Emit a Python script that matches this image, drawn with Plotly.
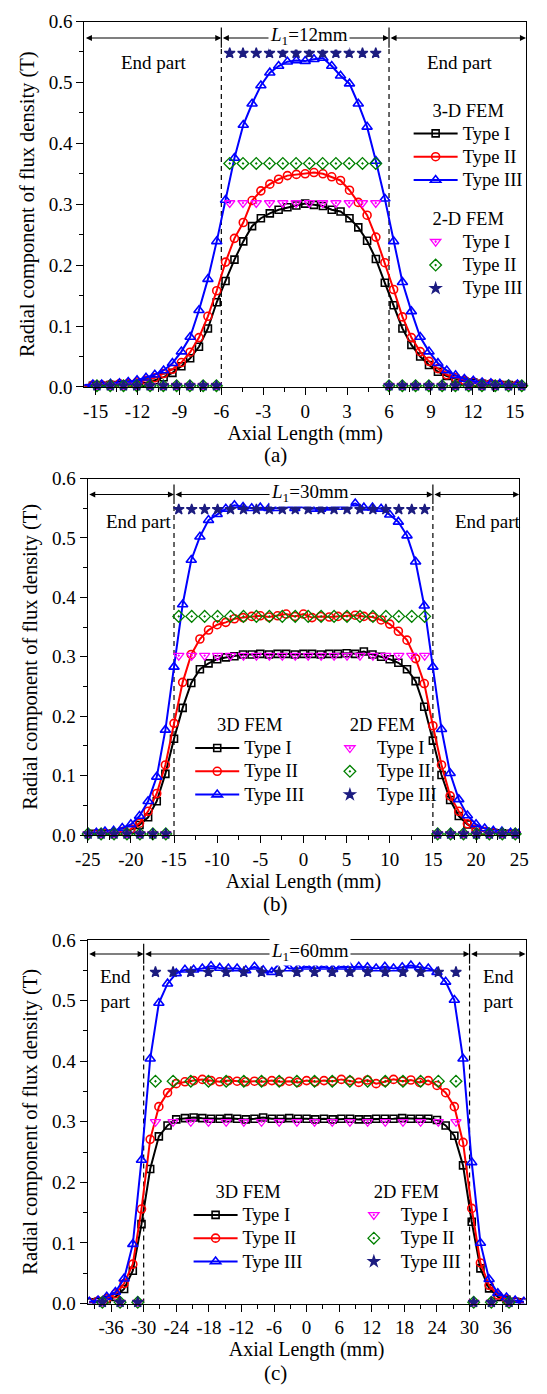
import plotly.graph_objects as go

W, H = 547, 1394
SERIF = "Liberation Serif"

# ---------------- (a) magnet length L1 = 12 mm ----------------
x3d_a = [-15.83, -15.19, -14.56, -13.93, -13.29, -12.66, -12.03, -11.39, -10.76, -10.13,
         -9.50, -8.86, -8.23, -7.60, -6.96, -6.33, -5.70, -5.06, -4.43, -3.80,
         -3.17, -2.53, -1.90, -1.27, -0.63, 0.0, 0.63, 1.27, 1.90, 2.53,
         3.17, 3.80, 4.43, 5.06, 5.70, 6.33, 6.96, 7.60, 8.23, 8.86,
         9.50, 10.13, 10.76, 11.39, 12.03, 12.66, 13.29, 13.93, 14.56, 15.19, 15.83]
a3d_type1 = [0.002, 0.002, 0.002, 0.003, 0.003, 0.004, 0.005, 0.007, 0.011, 0.016,
             0.023, 0.034, 0.047, 0.066, 0.096, 0.139, 0.174, 0.209, 0.239, 0.264,
             0.277, 0.285, 0.291, 0.295, 0.298, 0.301, 0.299, 0.297, 0.291, 0.288,
             0.277, 0.262, 0.240, 0.210, 0.171, 0.134, 0.096, 0.069, 0.050, 0.036,
             0.025, 0.018, 0.013, 0.009, 0.007, 0.005, 0.004, 0.003, 0.003, 0.002, 0.002]
a3d_type2 = [0.002, 0.003, 0.003, 0.004, 0.005, 0.006, 0.008, 0.011, 0.015, 0.022,
             0.029, 0.040, 0.057, 0.081, 0.116, 0.158, 0.205, 0.244, 0.270, 0.306,
             0.322, 0.333, 0.341, 0.347, 0.349, 0.350, 0.352, 0.350, 0.345, 0.339,
             0.323, 0.303, 0.282, 0.246, 0.204, 0.160, 0.115, 0.081, 0.058, 0.042,
             0.030, 0.020, 0.015, 0.011, 0.008, 0.006, 0.005, 0.004, 0.003, 0.003, 0.002]
a3d_type3 = [0.003, 0.004, 0.004, 0.005, 0.006, 0.008, 0.011, 0.015, 0.020, 0.027,
             0.039, 0.058, 0.082, 0.126, 0.177, 0.239, 0.307, 0.376, 0.430, 0.465,
             0.495, 0.516, 0.527, 0.534, 0.536, 0.535, 0.538, 0.540, 0.527, 0.511,
             0.498, 0.465, 0.427, 0.371, 0.309, 0.239, 0.172, 0.124, 0.082, 0.058,
             0.039, 0.027, 0.019, 0.013, 0.010, 0.007, 0.006, 0.005, 0.004, 0.004, 0.003]

x2d_a = [-14.9, -13.95, -13.0, -12.05, -11.1, -10.15, -9.2, -8.25, -7.3, -6.35,
         -5.4, -4.45, -3.5, -2.55, -1.6, -0.65, 0.3, 1.25, 2.2, 3.15, 4.1, 5.05,
         6.0, 6.95, 7.9, 8.85, 9.8, 10.75, 11.7, 12.65, 13.6, 14.55, 15.5]
a2d_type1 = [0.002, 0.002, 0.002, 0.002, 0.002, 0.002, 0.002, 0.002, 0.002, 0.002,
             0.302, 0.302, 0.302, 0.302, 0.302, 0.302, 0.302, 0.302, 0.302, 0.302, 0.302, 0.302,
             0.002, 0.002, 0.002, 0.002, 0.002, 0.002, 0.002, 0.002, 0.002, 0.002, 0.002]
a2d_type2 = [0.002, 0.002, 0.002, 0.002, 0.002, 0.002, 0.002, 0.002, 0.002, 0.002,
             0.367, 0.367, 0.367, 0.367, 0.367, 0.367, 0.367, 0.367, 0.367, 0.367, 0.367, 0.367,
             0.002, 0.002, 0.002, 0.002, 0.002, 0.002, 0.002, 0.002, 0.002, 0.002, 0.002]
a2d_type3 = [0.002, 0.002, 0.002, 0.002, 0.002, 0.002, 0.002, 0.002, 0.002, 0.002,
             0.548, 0.548, 0.548, 0.548, 0.548, 0.548, 0.548, 0.548, 0.548, 0.548, 0.548, 0.548,
             0.002, 0.002, 0.002, 0.002, 0.002, 0.002, 0.002, 0.002, 0.002, 0.002, 0.002]

# ---------------- (b) magnet length L1 = 30 mm ----------------
x3d_b = [-25, -24, -23, -22, -21, -20, -19, -18, -17, -16, -15, -14, -13, -12, -11, -10,
         -9, -8, -7, -6, -5, -4, -3, -2, -1, 0, 1, 2, 3, 4, 5, 6, 7, 8, 9, 10,
         11, 12, 13, 14, 15, 16, 17, 18, 19, 20, 21, 22, 23, 24, 25]
b3d_type1 = [0.002, 0.002, 0.002, 0.003, 0.005, 0.009, 0.017, 0.030, 0.057, 0.103,
             0.162, 0.214, 0.256, 0.279, 0.289, 0.296, 0.299, 0.301, 0.304, 0.304,
             0.305, 0.304, 0.305, 0.305, 0.304, 0.305, 0.305, 0.304, 0.305, 0.305,
             0.306, 0.305, 0.309, 0.304, 0.300, 0.296, 0.290, 0.279, 0.259, 0.216,
             0.159, 0.101, 0.059, 0.032, 0.018, 0.010, 0.006, 0.004, 0.003, 0.002, 0.002]
b3d_type2 = [0.002, 0.002, 0.003, 0.004, 0.006, 0.010, 0.020, 0.040, 0.070, 0.118,
             0.188, 0.257, 0.304, 0.330, 0.345, 0.354, 0.358, 0.364, 0.366, 0.368,
             0.369, 0.367, 0.369, 0.372, 0.368, 0.372, 0.366, 0.368, 0.367, 0.368,
             0.368, 0.370, 0.368, 0.367, 0.362, 0.355, 0.343, 0.328, 0.297, 0.255,
             0.184, 0.118, 0.066, 0.040, 0.019, 0.010, 0.006, 0.004, 0.003, 0.002, 0.002]
b3d_type3 = [0.003, 0.004, 0.006, 0.007, 0.012, 0.018, 0.032, 0.057, 0.098, 0.177,
             0.283, 0.388, 0.463, 0.502, 0.530, 0.540, 0.549, 0.555, 0.552, 0.550,
             0.551, 0.550, 0.550, 0.555, 0.550, 0.555, 0.549, 0.549, 0.551, 0.552,
             0.554, 0.558, 0.551, 0.551, 0.549, 0.539, 0.527, 0.504, 0.460, 0.386,
             0.283, 0.178, 0.104, 0.060, 0.033, 0.018, 0.011, 0.007, 0.006, 0.004, 0.003]

x2d_b = [-24.95, -23.45, -21.95, -20.45, -18.95, -17.45, -15.95,
         -14.45, -12.95, -11.45, -9.95, -8.45, -6.95, -5.45, -3.95, -2.45, -0.95,
         0.55, 2.05, 3.55, 5.05, 6.55, 8.05, 9.55, 11.05, 12.55, 14.05,
         15.55, 17.05, 18.55, 20.05, 21.55, 23.05, 24.55]
b2d_type1 = [0.002, 0.002, 0.002, 0.002, 0.002, 0.002, 0.002,
             0.302, 0.302, 0.302, 0.302, 0.302, 0.302, 0.302, 0.302, 0.302, 0.302,
             0.302, 0.302, 0.302, 0.302, 0.302, 0.302, 0.302, 0.302, 0.302, 0.302,
             0.002, 0.002, 0.002, 0.002, 0.002, 0.002, 0.002]
b2d_type2 = [0.002, 0.002, 0.002, 0.002, 0.002, 0.002, 0.002,
             0.368, 0.368, 0.368, 0.368, 0.368, 0.368, 0.368, 0.368, 0.368, 0.368,
             0.368, 0.368, 0.368, 0.368, 0.368, 0.368, 0.368, 0.368, 0.368, 0.368,
             0.002, 0.002, 0.002, 0.002, 0.002, 0.002, 0.002]
b2d_type3 = [0.002, 0.002, 0.002, 0.002, 0.002, 0.002, 0.002,
             0.548, 0.548, 0.548, 0.548, 0.548, 0.548, 0.548, 0.548, 0.548, 0.548,
             0.548, 0.548, 0.548, 0.548, 0.548, 0.548, 0.548, 0.548, 0.548, 0.548,
             0.002, 0.002, 0.002, 0.002, 0.002, 0.002, 0.002]

# ---------------- (c) magnet length L1 = 60 mm ----------------
x3d_c = [-40.0, -38.4, -36.8, -35.2, -33.6, -32.0, -30.4, -28.8, -27.2, -25.6,
         -24.0, -22.4, -20.8, -19.2, -17.6, -16.0, -14.4, -12.8, -11.2, -9.6,
         -8.0, -6.4, -4.8, -3.2, -1.6, 0.0, 1.6, 3.2, 4.8, 6.4,
         8.0, 9.6, 11.2, 12.8, 14.4, 16.0, 17.6, 19.2, 20.8, 22.4,
         24.0, 25.6, 27.2, 28.8, 30.4, 32.0, 33.6, 35.2, 36.8, 38.4, 40.0]
c3d_type1 = [0.002, 0.003, 0.006, 0.011, 0.024, 0.054, 0.131, 0.222, 0.276, 0.294,
             0.304, 0.306, 0.307, 0.306, 0.305, 0.305, 0.306, 0.305, 0.304, 0.305,
             0.307, 0.305, 0.305, 0.306, 0.305, 0.305, 0.304, 0.305, 0.304, 0.305,
             0.305, 0.304, 0.304, 0.305, 0.305, 0.305, 0.306, 0.305, 0.305, 0.305,
             0.303, 0.294, 0.277, 0.228, 0.135, 0.058, 0.025, 0.011, 0.006, 0.003, 0.002]
c3d_type2 = [0.002, 0.004, 0.008, 0.016, 0.033, 0.065, 0.156, 0.271, 0.325, 0.348,
             0.363, 0.366, 0.368, 0.370, 0.368, 0.366, 0.368, 0.367, 0.366, 0.367,
             0.366, 0.368, 0.366, 0.367, 0.365, 0.368, 0.366, 0.368, 0.367, 0.370,
             0.368, 0.365, 0.369, 0.363, 0.366, 0.370, 0.367, 0.369, 0.365, 0.368,
             0.360, 0.348, 0.325, 0.266, 0.157, 0.067, 0.030, 0.014, 0.007, 0.003, 0.002]
c3d_type3 = [0.003, 0.005, 0.011, 0.019, 0.041, 0.098, 0.237, 0.404, 0.496, 0.528,
             0.545, 0.551, 0.551, 0.553, 0.557, 0.554, 0.553, 0.553, 0.550, 0.556,
             0.550, 0.547, 0.564, 0.553, 0.553, 0.556, 0.553, 0.556, 0.552, 0.556,
             0.555, 0.556, 0.555, 0.553, 0.556, 0.553, 0.555, 0.558, 0.555, 0.553,
             0.547, 0.531, 0.501, 0.404, 0.233, 0.100, 0.040, 0.017, 0.010, 0.005, 0.003]

x2d_c = [-37.6, -34.34, -31.09,
         -27.83, -24.58, -21.32, -18.07, -14.81, -11.56, -8.3, -5.05, -1.79,
         1.46, 4.72, 7.97, 11.23, 14.48, 17.74, 20.99, 24.25, 27.5,
         30.76, 34.01, 37.27]
c2d_type1 = [0.002, 0.002, 0.002,
             0.300, 0.300, 0.300, 0.300, 0.300, 0.300, 0.300, 0.300, 0.300,
             0.300, 0.300, 0.300, 0.300, 0.300, 0.300, 0.300, 0.300, 0.300,
             0.002, 0.002, 0.002]
c2d_type2 = [0.002, 0.002, 0.002,
             0.367, 0.367, 0.367, 0.367, 0.367, 0.367, 0.367, 0.367, 0.367,
             0.367, 0.367, 0.367, 0.367, 0.367, 0.367, 0.367, 0.367, 0.367,
             0.002, 0.002, 0.002]
c2d_type3 = [0.002, 0.002, 0.002,
             0.547, 0.547, 0.547, 0.547, 0.547, 0.547, 0.547, 0.547, 0.547,
             0.547, 0.547, 0.547, 0.547, 0.547, 0.547, 0.547, 0.547, 0.547,
             0.002, 0.002, 0.002]

# tick labels
y_ticks = [0.0, 0.1, 0.2, 0.3, 0.4, 0.5, 0.6]
y_ticklabels = ["0.0", "0.1", "0.2", "0.3", "0.4", "0.5", "0.6"]
x_ticks_a = [-15, -12, -9, -6, -3, 0, 3, 6, 9, 12, 15]
x_ticks_b = [-25, -20, -15, -10, -5, 0, 5, 10, 15, 20, 25]
x_ticks_c = [-36, -30, -24, -18, -12, -6, 0, 6, 12, 18, 24, 30, 36]

series_names = ["Type I", "Type II", "Type III"]
style_3d = [("#000000", "square-open", 7), ("#ff0000", "circle-open", 8),
            ("#0000ff", "triangle-up-open", 9)]
style_2d = [("#ff00ff", "triangle-down-open-dot", 9), ("#008000", "diamond-open-dot", 9),
            ("#1c1c80", "star", 8)]


def pxx(p):
    return p / W


def pxy(p):
    return 1 - p / H


panels = [
    dict(tag="(a)", L1=12, x3d=x3d_a, y3d=[a3d_type1, a3d_type2, a3d_type3],
         x2d=x2d_a, y2d=[a2d_type1, a2d_type2, a2d_type3], ticks=x_ticks_a, minor=1.5,
         xr=[-15.8, 15.8], xdom=[74.5, 535.5], ydom=[11.7, 382.7], arrow_y=0.573,
         l1_x=0.3, end_left=(-10.8, 0.533), end_right=(11.1, 0.533), end_text="End part",
         h3="3-D FEM", h2="2-D FEM",
         leg3=(413, 84), leg2=(413, 194), sub_y=452),
    dict(tag="(b)", L1=30, x3d=x3d_b, y3d=[b3d_type1, b3d_type2, b3d_type3],
         x2d=x2d_b, y2d=[b2d_type1, b2d_type2, b2d_type3], ticks=x_ticks_b, minor=2.5,
         xr=[-25, 25], xdom=[78, 528.4], ydom=[475.7, 837.7], arrow_y=0.573,
         l1_x=0.78, end_left=(-19.1, 0.527), end_right=(21.4, 0.527), end_text="End part",
         h3="3D FEM", h2="2D FEM",
         leg3=(185, 708), leg2=(323.5, 708), sub_y=908),
    dict(tag="(c)", L1=60, x3d=x3d_c, y3d=[c3d_type1, c3d_type2, c3d_type3],
         x2d=x2d_c, y2d=[c2d_type1, c2d_type2, c2d_type3], ticks=x_ticks_c, minor=3,
         xr=[-40.3, 40.3], xdom=[78, 535], ydom=[944.3, 1313.3], arrow_y=0.577,
         l1_x=0.64, end_left=(-35.2, 0.52), end_right=(35.4, 0.52), end_text="End<br>part",
         h3="3D FEM", h2="2D FEM",
         leg3=(183.3, 1182), leg2=(348.5, 1182), sub_y=1383.5),
]

fig = go.Figure()
layout = dict(width=W, height=H, margin=dict(l=0, r=0, t=0, b=0),
              paper_bgcolor="white", plot_bgcolor="white",
              font=dict(family=SERIF, color="black"))
annotations = []
shapes = []

for i, p in enumerate(panels, start=1):
    sfx = "" if i == 1 else str(i)
    xa, ya = "x" + sfx, "y" + sfx
    leg3_id = "legend" + ("" if i == 1 else str(2 * i - 1))
    leg2_id = "legend" + str(2 * i)

    for k in range(3):
        color, sym, size = style_3d[k]
        fig.add_trace(go.Scatter(
            x=p["x3d"], y=p["y3d"][k], mode="lines+markers", xaxis=xa, yaxis=ya,
            name='<span style="font-size:18.5px">%s</span>' % series_names[k],
            legend=leg3_id,
            line=dict(color=color, width=2),
            marker=dict(symbol=sym, size=size, color=color, line=dict(width=1.6, color=color))))
    for k in range(3):
        color, sym, size = style_2d[k]
        fig.add_trace(go.Scatter(
            x=p["x2d"], y=p["y2d"][k], mode="markers", xaxis=xa, yaxis=ya, cliponaxis=False,
            name='<span style="font-size:18.5px">%s</span>' % series_names[k],
            legend=leg2_id,
            marker=dict(symbol=sym, size=size, color=color, line=dict(width=1.3, color=color))))

    layout["xaxis" + sfx] = dict(
        domain=[pxx(p["xdom"][0]), pxx(p["xdom"][1])], anchor=ya, range=p["xr"],
        tickmode="array", tickvals=p["ticks"], ticktext=[str(v) for v in p["ticks"]],
        ticks="outside", ticklen=7, tickwidth=1.2, tickcolor="black",
        minor=dict(tickmode="linear", tick0=0, dtick=p["minor"], ticks="outside",
                   ticklen=4, tickwidth=1.2, tickcolor="black"),
        showline=True, mirror=True, linecolor="black", linewidth=1.2,
        showgrid=False, zeroline=False,
        tickfont=dict(family=SERIF, size=19, color="black"),
        title=dict(text="Axial Length (mm)", font=dict(family=SERIF, size=20, color="black"),
                   standoff=0))
    layout["yaxis" + sfx] = dict(
        domain=[pxy(p["ydom"][1]), pxy(p["ydom"][0])], anchor=xa, range=[0, 0.6],
        tickmode="array", tickvals=y_ticks, ticktext=y_ticklabels,
        ticks="outside", ticklen=7, tickwidth=1.2, tickcolor="black",
        minor=dict(tickmode="linear", tick0=0, dtick=0.05, ticks="outside",
                   ticklen=4, tickwidth=1.2, tickcolor="black"),
        showline=True, mirror=True, linecolor="black", linewidth=1.2,
        showgrid=False, zeroline=False,
        tickfont=dict(family=SERIF, size=19, color="black"),
        title=dict(text="Radial component of flux density (T)",
                   font=dict(family=SERIF, size=20.5, color="black"), standoff=8))

    for leg_id, head, pos in ((leg3_id, p["h3"], p["leg3"]), (leg2_id, p["h2"], p["leg2"])):
        layout[leg_id] = dict(
            x=pxx(pos[0]), y=pxy(pos[1]), xanchor="left", yanchor="top",
            xref="paper", yref="paper",
            bgcolor="rgba(0,0,0,0)", borderwidth=0, itemwidth=44,
            font=dict(family=SERIF, size=15.6, color="black"),
            title=dict(text=head, side="top center",
                       font=dict(family=SERIF, size=18.5, color="black")),
            traceorder="normal", tracegroupgap=0)

    half = p["L1"] / 2
    x_lo, x_hi = p["xr"]
    ay = p["arrow_y"]
    # extent arrows: end part | magnet | end part
    for a0, a1 in ((x_lo, -half), (-half, half), (half, x_hi)):
        annotations.append(dict(
            x=a1, y=ay, ax=a0, ay=ay, xref=xa, yref=ya, axref=xa, ayref=ya,
            text="", showarrow=True, arrowhead=2, startarrowhead=2, arrowside="end+start",
            arrowsize=1.1, startarrowsize=1.1, arrowwidth=1.1, arrowcolor="black",
            standoff=0, startstandoff=0))
    annotations.append(dict(
        x=p["l1_x"], y=ay, xref=xa, yref=ya, showarrow=False, yshift=2,
        text="<i>L</i><sub>1</sub>=%dmm" % p["L1"], bgcolor="white",
        font=dict(family=SERIF, size=19, color="black")))
    for (ex, ey) in (p["end_left"], p["end_right"]):
        annotations.append(dict(
            x=ex, y=ey, xref=xa, yref=ya, showarrow=False, text=p["end_text"],
            font=dict(family=SERIF, size=19, color="black")))
    annotations.append(dict(
        x=0.5, y=pxy(p["sub_y"]), xref="paper", yref="paper", showarrow=False,
        xanchor="center", yanchor="middle",
        text=p["tag"], font=dict(family=SERIF, size=21, color="black")))

    # boundaries of the magnet (dashed) with a short solid mark at the arrow
    for xb in (-half, half):
        shapes.append(dict(type="line", xref=xa, yref=ya, x0=xb, x1=xb, y0=0, y1=ay - 0.016,
                           line=dict(color="black", width=1.2, dash="5px,4px"), layer="below"))
        shapes.append(dict(type="line", xref=xa, yref=ya, x0=xb, x1=xb, y0=ay - 0.016,
                           y1=ay + 0.017, line=dict(color="black", width=1.2)))

layout["annotations"] = annotations
layout["shapes"] = shapes
fig.update_layout(**layout)
fig.write_html("out.html")
